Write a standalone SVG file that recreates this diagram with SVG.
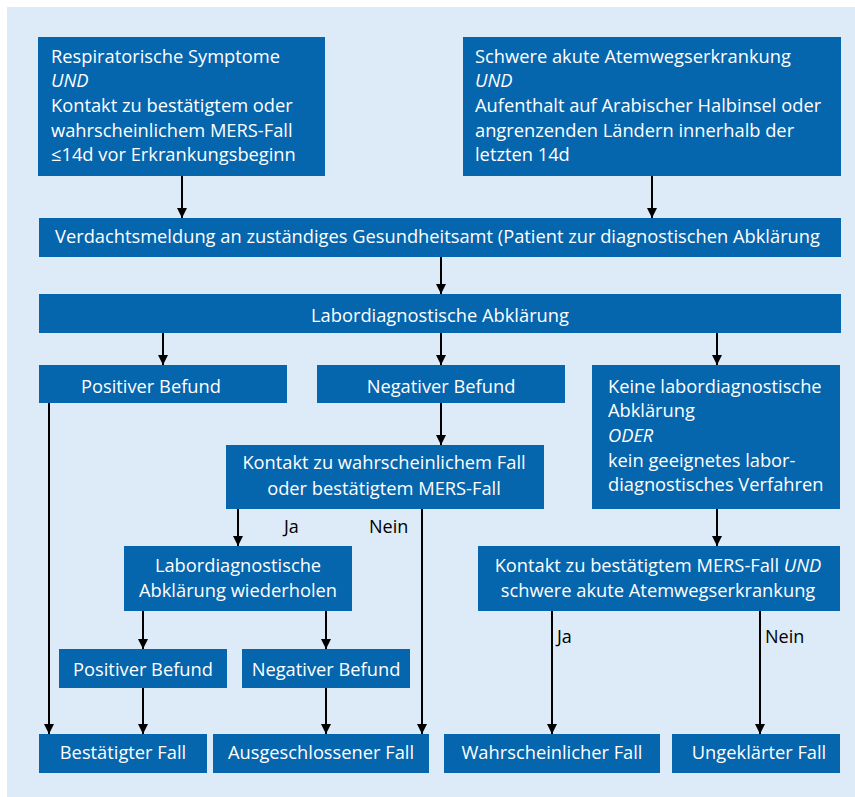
<svg xmlns="http://www.w3.org/2000/svg" width="855" height="797" viewBox="0 0 855 797">
<defs>
<style>
.bg{fill:#ddeaf7}
.box{fill:#0565ad}
.t{font-family:"Open Sans","Noto Sans","Liberation Sans",sans-serif;font-size:18.3px;fill:#ffffff}
.c{text-anchor:middle}
.i{font-style:italic}
.lbl{font-family:"Open Sans","Noto Sans","Liberation Sans",sans-serif;font-size:18px;fill:#000000}
.ln{stroke:#000;stroke-width:2;fill:none}
</style>
<marker id="ah" viewBox="0 0 10 14" refX="10" refY="7" markerWidth="10" markerHeight="14" markerUnits="userSpaceOnUse" orient="auto">
<path d="M0,2 L10,7 L0,12 Z" fill="#000"/>
</marker>
</defs>
<rect class="bg" x="7" y="7" width="848" height="790"/>
<g id="connectors">
<line class="ln" x1="182" y1="176" x2="182" y2="218" marker-end="url(#ah)"/>
<line class="ln" x1="652" y1="176" x2="652" y2="218" marker-end="url(#ah)"/>
<line class="ln" x1="441" y1="257" x2="441" y2="294" marker-end="url(#ah)"/>
<line class="ln" x1="163" y1="333" x2="163" y2="365" marker-end="url(#ah)"/>
<line class="ln" x1="441" y1="333" x2="441" y2="365" marker-end="url(#ah)"/>
<line class="ln" x1="717" y1="333" x2="717" y2="365" marker-end="url(#ah)"/>
<line class="ln" x1="441" y1="403" x2="441" y2="445" marker-end="url(#ah)"/>
<line class="ln" x1="49" y1="403" x2="49" y2="734" marker-end="url(#ah)"/>
<line class="ln" x1="238" y1="509" x2="238" y2="546" marker-end="url(#ah)"/>
<line class="ln" x1="422" y1="509" x2="422" y2="734" marker-end="url(#ah)"/>
<line class="ln" x1="143" y1="611" x2="143" y2="649" marker-end="url(#ah)"/>
<line class="ln" x1="326" y1="611" x2="326" y2="649" marker-end="url(#ah)"/>
<line class="ln" x1="143" y1="688" x2="143" y2="734" marker-end="url(#ah)"/>
<line class="ln" x1="326" y1="688" x2="326" y2="734" marker-end="url(#ah)"/>
<line class="ln" x1="717" y1="509" x2="717" y2="546" marker-end="url(#ah)"/>
<line class="ln" x1="552" y1="611" x2="552" y2="734" marker-end="url(#ah)"/>
<line class="ln" x1="760" y1="611" x2="760" y2="734" marker-end="url(#ah)"/>
<text class="lbl" x="284" y="533">Ja</text>
<text class="lbl" x="369" y="533">Nein</text>
<text class="lbl" x="557" y="643">Ja</text>
<text class="lbl" x="765" y="643">Nein</text>
</g>
<g id="n1">
<rect class="box" x="38" y="37" width="287" height="139"/>
<text class="t" x="51" y="63">Respiratorische Symptome</text>
<text class="t i" x="51" y="87">UND</text>
<text class="t" x="51" y="112">Kontakt zu bestätigtem oder</text>
<text class="t" x="51" y="137">wahrscheinlichem MERS-Fall</text>
<text class="t" x="51" y="161">≤14d vor Erkrankungsbeginn</text>
</g>
<g id="n2">
<rect class="box" x="463" y="37" width="378" height="139"/>
<text class="t" x="475" y="63">Schwere akute Atemwegserkrankung</text>
<text class="t i" x="475" y="87">UND</text>
<text class="t" x="475" y="112">Aufenthalt auf Arabischer Halbinsel oder</text>
<text class="t" x="475" y="137">angrenzenden Ländern innerhalb der</text>
<text class="t" x="475" y="161">letzten 14d</text>
</g>
<g id="n3">
<rect class="box" x="39" y="218" width="802" height="39"/>
<text class="t" x="55" y="243">Verdachtsmeldung an zuständiges Gesundheitsamt (Patient zur diagnostischen Abklärung</text>
</g>
<g id="n4">
<rect class="box" x="39" y="294" width="802" height="39"/>
<text class="t c" x="440" y="322">Labordiagnostische Abklärung</text>
</g>
<g id="n5">
<rect class="box" x="39" y="365" width="248" height="38"/>
<text class="t" x="81" y="393">Positiver Befund</text>
</g>
<g id="n6">
<rect class="box" x="317" y="365" width="248" height="38"/>
<text class="t c" x="441" y="393">Negativer Befund</text>
</g>
<g id="n7">
<rect class="box" x="592" y="365" width="248" height="144"/>
<text class="t" x="608" y="393">Keine labordiagnostische</text>
<text class="t" x="608" y="417">Abklärung</text>
<text class="t i" x="608" y="442">ODER</text>
<text class="t" x="608" y="467">kein geeignetes labor-</text>
<text class="t" x="608" y="491">diagnostisches Verfahren</text>
</g>
<g id="n8">
<rect class="box" x="226" y="445" width="318" height="64"/>
<text class="t c" x="384" y="469">Kontakt zu wahrscheinlichem Fall</text>
<text class="t c" x="384" y="495">oder bestätigtem MERS-Fall</text>
</g>
<g id="n9">
<rect class="box" x="124" y="546" width="228" height="65"/>
<text class="t c" x="238" y="572">Labordiagnostische</text>
<text class="t c" x="238" y="597">Abklärung wiederholen</text>
</g>
<g id="n10">
<rect class="box" x="478" y="546" width="362" height="65"/>
<text class="t c" x="658" y="572">Kontakt zu bestätigtem MERS-Fall <tspan class="i">UND</tspan></text>
<text class="t c" x="658" y="597">schwere akute Atemwegserkrankung</text>
</g>
<g id="n11">
<rect class="box" x="59" y="649" width="168" height="39"/>
<text class="t c" x="143" y="676">Positiver Befund</text>
</g>
<g id="n12">
<rect class="box" x="242" y="649" width="168" height="39"/>
<text class="t c" x="326" y="676">Negativer Befund</text>
</g>
<g id="n13">
<rect class="box" x="39" y="734" width="168" height="39"/>
<text class="t c" x="123" y="759">Bestätigter Fall</text>
</g>
<g id="n14">
<rect class="box" x="213" y="734" width="216" height="39"/>
<text class="t c" x="321" y="759">Ausgeschlossener Fall</text>
</g>
<g id="n15">
<rect class="box" x="444" y="734" width="216" height="39"/>
<text class="t c" x="552" y="759">Wahrscheinlicher Fall</text>
</g>
<g id="n16">
<rect class="box" x="672" y="734" width="168" height="39"/>
<text class="t c" x="759" y="759">Ungeklärter Fall</text>
</g>
</svg>
